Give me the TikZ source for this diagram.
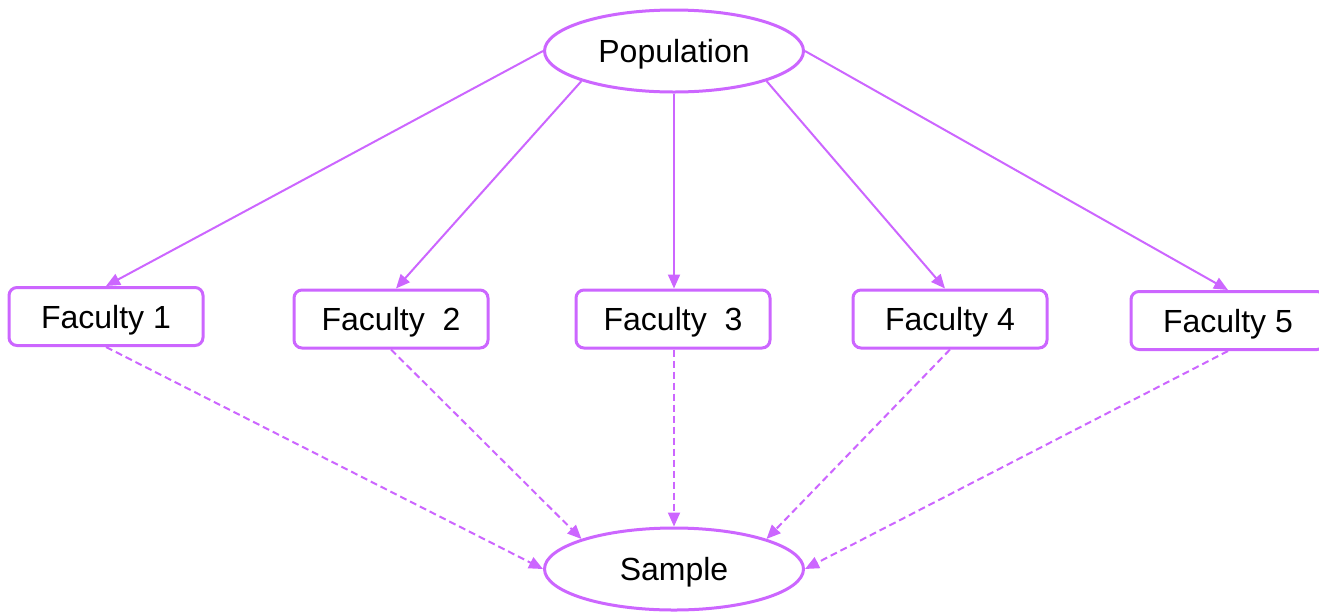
\documentclass[tikz,border=0pt]{standalone}
\usepackage{fontspec}
\setmainfont{Liberation Sans}
\usetikzlibrary{shapes.geometric,arrows.meta}
\definecolor{vio}{RGB}{204,102,255}
\begin{document}
\begin{tikzpicture}[x=1pt,y=-1pt,
  every node/.style={font=\fontsize{32}{37}\selectfont, text=black},
  oval/.style={ellipse, draw=vio, line width=3pt, minimum width=259pt, minimum height=82pt, inner sep=0pt, fill=white, text depth=0pt},
  fac/.style={rectangle, rounded corners=8pt, draw=vio, line width=3pt, minimum width=194pt, minimum height=58pt, inner sep=0pt, fill=white, text depth=0pt},
  solidarr/.style={draw=vio, line width=2pt, -{Triangle[length=14pt,width=12pt]}},
  dasharr/.style={draw=vio, line width=2pt, dash pattern=on 7pt off 4pt, -{Triangle[length=14pt,width=12pt]}}]
\useasboundingbox (0,0) rectangle (1319,614);
\node[oval] (pop) at (674,51) {Population};
\node[oval] (samp) at (674,569) {Sample};
\node[fac] (f1) at (106,316.5) {Faculty 1};
\node[fac] (f2) at (391,319) {Faculty\ \ 2};
\node[fac] (f3) at (673,319) {Faculty\ \ 3};
\node[fac] (f4) at (950,319) {Faculty 4};
\node[fac] (f5) at (1228,320.5) {Faculty 5};
\draw[solidarr] (pop.west) -- (f1.north);
\draw[solidarr] (pop.198) -- ([xshift=5pt]f2.north);
\draw[solidarr] (pop.south) -- ([xshift=1pt]f3.north);
\draw[solidarr] (pop.-18) -- ([xshift=-5pt]f4.north);
\draw[solidarr] (pop.east) -- (f5.north);
\draw[dasharr] (f1.south) -- (samp.west);
\draw[dasharr] (f2.south) -- (samp.162);
\draw[dasharr] ([xshift=1pt]f3.south) -- (samp.north);
\draw[dasharr] (f4.south) -- (samp.18);
\draw[dasharr] (f5.south) -- (samp.east);
\end{tikzpicture}
\end{document}
